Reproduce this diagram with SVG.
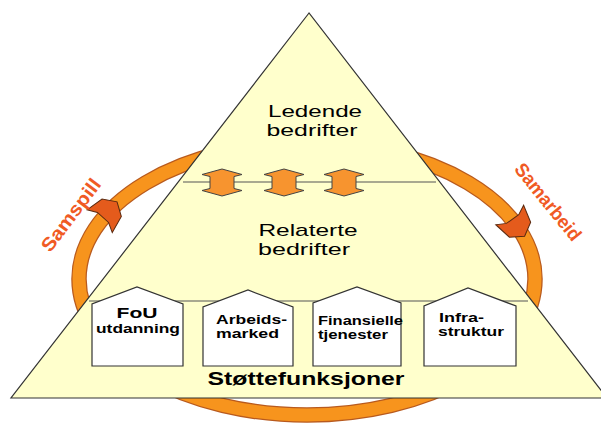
<svg xmlns="http://www.w3.org/2000/svg" width="601" height="428" viewBox="0 0 601 428">
  <style>
    .txt { font-family: "Liberation Sans", Arial, sans-serif; fill: #000; }
    .lvl { font-size: 17px; }
    .house-t { font-size: 13px; font-weight: bold; }
    .side { font-family: "Liberation Sans", Arial, sans-serif; font-size: 19px; font-weight: bold; fill: #F05A24; }
    .tri { fill: #FFFFCC; stroke: #333; stroke-width: 1.2; }
    .sep { stroke: #555; stroke-width: 1.2; fill: none; }
    .house { fill: #FFFFFF; stroke: #333; stroke-width: 1.2; }
    .dbl { fill: #F7942F; stroke: #444; stroke-width: 1; }
    .ring-edge { fill: none; stroke: #B85A1E; stroke-width: 15.5; }
    .ring { fill: none; stroke: #F7941D; stroke-width: 13; }
    .head { fill: #E45B1C; stroke: #5A2A10; stroke-width: 1; }
  </style>
  <defs>
    <path id="updown" d="M0,-13.5 L20,-8 L12,-6 L12,6 L20,8 L0,13.5 L-20,8 L-12,6 L-12,-6 L-20,-8 Z"/>
    <path id="ringhead" d="M-11,-17 L7,-13 L15,0 L7,13 L-11,17 L-6,7.5 L-6,-7.5 Z"/>
  </defs>

  <g id="connectors">
    <ellipse class="ring-edge" cx="307" cy="279" rx="228" ry="136"/>
    <ellipse class="ring" cx="307" cy="279" rx="228" ry="136"/>
    <use href="#ringhead" class="head" transform="translate(107,213) rotate(-48)"/>
    <use href="#ringhead" class="head" transform="translate(516,224) rotate(55)"/>
    <text class="side" text-anchor="middle" textLength="86" lengthAdjust="spacingAndGlyphs" transform="translate(76,219) rotate(-53)">Samspill</text>
    <text class="side" text-anchor="middle" textLength="94" lengthAdjust="spacingAndGlyphs" transform="translate(543,206) rotate(51)">Samarbeid</text>
  </g>

  <g id="pyramid">
    <polygon class="tri" points="309,13 11,398 607,398"/>
    <line class="sep" x1="183" y1="182" x2="436" y2="182"/>
    <line class="sep" x1="89" y1="301" x2="528" y2="301"/>
  </g>

  <g id="ledende">
    <text class="txt lvl" x="315" y="117" text-anchor="middle" textLength="94" lengthAdjust="spacingAndGlyphs">Ledende</text>
    <text class="txt lvl" x="312" y="136" text-anchor="middle" textLength="91" lengthAdjust="spacingAndGlyphs">bedrifter</text>
  </g>

  <g id="level-arrows">
    <use href="#updown" class="dbl" x="222" y="182.5"/>
    <use href="#updown" class="dbl" x="284" y="182.5"/>
    <use href="#updown" class="dbl" x="344" y="182.5"/>
  </g>

  <g id="relaterte">
    <text class="txt lvl" x="308" y="236" text-anchor="middle" textLength="99" lengthAdjust="spacingAndGlyphs">Relaterte</text>
    <text class="txt lvl" x="304" y="255" text-anchor="middle" textLength="92" lengthAdjust="spacingAndGlyphs">bedrifter</text>
  </g>

  <g id="house-fou">
    <path class="house" d="M92,366 V304 L137,287 L183,304 V366 Z"/>
    <text class="txt house-t" x="137" y="318" text-anchor="middle" textLength="41" lengthAdjust="spacingAndGlyphs" style="font-size:15px">FoU</text>
    <text class="txt house-t" x="96" y="333" textLength="84" lengthAdjust="spacingAndGlyphs">utdanning</text>
  </g>

  <g id="house-arbeid">
    <path class="house" d="M203,366 V307 L248,290 L293,307 V366 Z"/>
    <text class="txt house-t" x="216" y="324" textLength="71" lengthAdjust="spacingAndGlyphs">Arbeids-</text>
    <text class="txt house-t" x="216" y="338" textLength="63" lengthAdjust="spacingAndGlyphs">marked</text>
  </g>

  <g id="house-finans">
    <path class="house" d="M313,366 V303 L357,287 L401,303 V366 Z"/>
    <text class="txt house-t" x="318" y="325" textLength="85" lengthAdjust="spacingAndGlyphs">Finansielle</text>
    <text class="txt house-t" x="318" y="339" textLength="70" lengthAdjust="spacingAndGlyphs">tjenester</text>
  </g>

  <g id="house-infra">
    <path class="house" d="M424,366 V306 L468,288 L516,306 V366 Z"/>
    <text class="txt house-t" x="439" y="322" textLength="45" lengthAdjust="spacingAndGlyphs">Infra-</text>
    <text class="txt house-t" x="438" y="336" textLength="66" lengthAdjust="spacingAndGlyphs">struktur</text>
  </g>

  <g id="stotte">
    <text class="txt" x="306" y="385" text-anchor="middle" textLength="197" lengthAdjust="spacingAndGlyphs" style="font-size:19px;font-weight:bold">Støttefunksjoner</text>
  </g>
</svg>
